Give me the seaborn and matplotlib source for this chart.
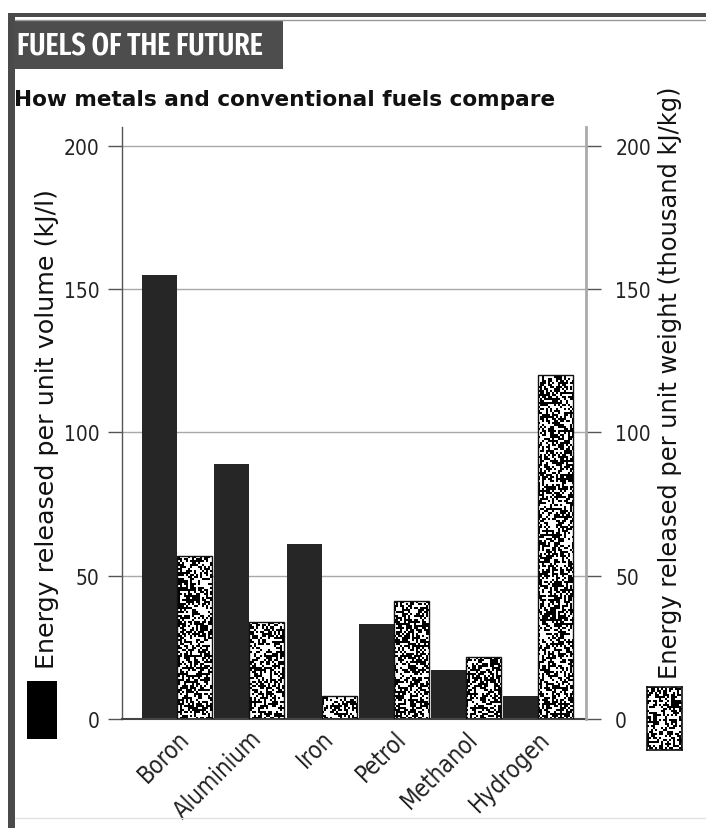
import numpy as np
import pandas as pd
import matplotlib
matplotlib.use("Agg")
import matplotlib.pyplot as plt
from matplotlib import font_manager as fm
from matplotlib.font_manager import FontProperties
from matplotlib.patches import Rectangle
import seaborn as sns

# Energy released by each fuel
fuels = ["Boron", "Aluminium", "Iron", "Petrol", "Methanol", "Hydrogen"]
per_volume = [155, 89, 61, 33, 17, 8]        # kJ/l
per_weight = [57, 34, 8, 41, 21.5, 120]      # thousand kJ/kg
y_ticks = [0, 50, 100, 150, 200]

title = "FUELS OF THE FUTURE"
subtitle = "How metals and conventional fuels compare"
left_label = "Energy released per unit volume (kJ/l)"
right_label = "Energy released per unit weight (thousand kJ/kg)"

df = pd.DataFrame({
    "fuel": fuels * 2,
    "measure": ["volume"] * len(fuels) + ["weight"] * len(fuels),
    "value": per_volume + per_weight,
})

sns.set_theme(style="white")
plt.rcParams["font.family"] = ["DejaVu Sans"]


def _weight(w):
    if isinstance(w, str):
        return fm.weight_dict.get(w.lower(), 400)
    return int(w)


def condensed_face(target_weight=400, extra=False):
    """Path of an installed narrow/condensed sans face, or None."""
    prefs = ["liberation sans narrow", "dejavu sans", "noto sans", "open sans", "roboto",
             "arimo", "lato", "inter"]
    best, best_score = None, None
    for f in fm.fontManager.ttflist:
        name = f.name.lower()
        fname = f.fname.lower().replace("-", "").replace("_", "")
        stretch = str(f.stretch).lower()
        narrow = ("narrow" in name or "condensed" in name or "narrow" in fname
                  or "condensed" in fname or "condensed" in stretch)
        if not narrow or f.style != "normal":
            continue
        if "ultra" in fname or "semicondensed" in fname:
            continue
        is_extra = "extra" in fname or "extra" in name or stretch == "extra-condensed"
        rank = next((k for k, p in enumerate(prefs) if name.startswith(p)), len(prefs))
        score = (0 if is_extra == extra else 1, rank, abs(_weight(f.weight) - target_weight))
        if best_score is None or score < best_score:
            best, best_score = f.fname, score
    return best


cond_regular = condensed_face(400)
cond_title = condensed_face(600, extra=True)


def face(path, size, fallback="DejaVu Sans"):
    if path:
        return FontProperties(fname=path, size=size)
    return FontProperties(family=fallback, size=size)


W, H = 706, 829
fig = plt.figure(figsize=(W / 100, H / 100), dpi=100)
renderer = fig.canvas.get_renderer()


def fx(px):
    return px / W


def fy(py):
    return 1 - py / H


def fit(t, target_px, vertical=False, max_size=None):
    """Scale a text's font size so its extent spans target_px."""
    for _ in range(3):
        bb = t.get_window_extent(renderer)
        cur = bb.height if vertical else bb.width
        t.set_fontsize(t.get_fontsize() * target_px / cur)
    if max_size and t.get_fontsize() > max_size:
        t.set_fontsize(max_size)


def speckle(h, w, cell=2):
    """Black/white stipple texture built from a deterministic hash."""
    i, j = np.mgrid[0:h // cell + 2, 0:w // cell + 2]
    v = np.sin(i * 12.9898 + j * 78.233) * 43758.5453
    v = v - np.floor(v)
    tex = (v > 0.52).astype(float)
    tex = np.kron(tex, np.ones((cell, cell)))
    return tex[:h, :w]


# Page frame
fig.patches.append(Rectangle((fx(8), 0), fx(7), fy(14), transform=fig.transFigure,
                             color="#4a4a4a", lw=0, zorder=0))
fig.patches.append(Rectangle((fx(8), fy(18)), 1, fy(14) - fy(18), transform=fig.transFigure,
                             color="#4a4a4a", lw=0, zorder=0))
fig.lines.append(plt.Line2D([fx(15), 1], [fy(21), fy(21)], transform=fig.transFigure,
                            color="#9a9a9a", lw=1))
fig.lines.append(plt.Line2D([fx(15), 1], [fy(819), fy(819)], transform=fig.transFigure,
                            color="#e2e2e2", lw=1))

# Title banner
fig.patches.append(Rectangle((fx(14), fy(70)), fx(283) - fx(14), fy(22) - fy(70),
                             transform=fig.transFigure, color="#4d4d4d", lw=0, zorder=1))
t_title = fig.text(fx(17), fy(47), title, color="white", fontproperties=face(cond_title, 20),
                   ha="left", va="center", zorder=2)
fit(t_title, 246, max_size=23)
t_sub = fig.text(fx(14), fy(100), subtitle, color="#111111", fontsize=16, family="DejaVu Sans",
                 fontweight="bold", ha="left", va="center")
fit(t_sub, 539)

# Main axes
ax_l, ax_r, ax_t, ax_b = 122, 586, 128, 720
ax = fig.add_axes([fx(ax_l), fy(ax_b), fx(ax_r) - fx(ax_l), fy(ax_t) - fy(ax_b)])

sns.barplot(data=df, x="fuel", y="value", hue="measure",
            palette={"volume": "#262626", "weight": "#ffffff"},
            width=0.97, saturation=1, legend=False, ax=ax, errorbar=None)

xlim = (-0.765, 5.665)
ylim = (0, 206.5)
ax.set_xlim(*xlim)
ax.set_ylim(*ylim)

tex = speckle(ax_b - ax_t, ax_r - ax_l)
for p in list(ax.patches):
    fc = p.get_facecolor()
    p.set_linewidth(0)
    if fc[0] > 0.9:
        im = ax.imshow(tex, cmap="gray", vmin=0, vmax=1, extent=(xlim[0], xlim[1], ylim[0], ylim[1]),
                       aspect="auto", interpolation="nearest", zorder=2)
        im.set_clip_path(p)
        p.set_facecolor("none")
        p.set_edgecolor("#111111")
        p.set_linewidth(1.0)
        p.set_zorder(3)
ax.set_xlim(*xlim)
ax.set_ylim(*ylim)
ax.set_aspect("auto")

ax.set_yticks(y_ticks)
ax.yaxis.grid(True, color="#a8a8a8", lw=1)
ax.set_axisbelow(True)
ax.set_xlabel("")
ax.set_ylabel("")
for s in ["top", "right"]:
    ax.spines[s].set_visible(False)
ax.spines["left"].set_color("#555555")
ax.spines["left"].set_linewidth(1.0)
ax.spines["bottom"].set_color("#444444")
ax.spines["bottom"].set_linewidth(1.5)
ax.tick_params(axis="y", length=10, width=1, color="#555555", pad=6, labelcolor="#222222")
ax.tick_params(axis="x", length=0, pad=5)

ytick_size = 15 if cond_regular else 12.5
xtick_size = 17 if cond_regular else 14.5
for lab in ax.get_yticklabels():
    lab.set_fontproperties(face(cond_regular, ytick_size))
ax.set_xticks(range(len(fuels)))
ax.set_xticklabels(fuels, rotation=45, ha="right", va="top", rotation_mode="anchor",
                   color="#222222")
for lab in ax.get_xticklabels():
    lab.set_fontproperties(face(cond_regular, xtick_size))

# Right-hand scale
ax2 = ax.twinx()
ax2.set_ylim(*ylim)
ax2.set_yticks(y_ticks)
for s in ["top", "left", "bottom"]:
    ax2.spines[s].set_visible(False)
ax2.spines["right"].set_color("#aaaaaa")
ax2.spines["right"].set_linewidth(2)
ax2.tick_params(axis="y", length=11, width=1, color="#555555", pad=10, labelcolor="#222222")
for lab in ax2.get_yticklabels():
    lab.set_fontproperties(face(cond_regular, ytick_size))
ax2.grid(False)

# Axis titles with their key swatches
t_left = fig.text(fx(47), fy(429), left_label, rotation=90, ha="center", va="center",
                  fontsize=16, family="DejaVu Sans", color="#111111")
fit(t_left, 478, vertical=True)
t_right = fig.text(fx(670), fy(383), right_label, rotation=90, ha="center", va="center",
                   fontsize=16, family="DejaVu Sans", color="#111111")
fit(t_right, 590, vertical=True)

fig.patches.append(Rectangle((fx(27), fy(740)), fx(57) - fx(27), fy(682) - fy(740),
                             transform=fig.transFigure, color="black", lw=0))
sw = fig.add_axes([fx(647), fy(751), fx(682) - fx(647), fy(688) - fy(751)])
sw.imshow(speckle(63, 35), cmap="gray", vmin=0, vmax=1, aspect="auto", interpolation="nearest")
sw.set_xticks([])
sw.set_yticks([])
for s in sw.spines.values():
    s.set_color("#111111")
    s.set_linewidth(1.2)

fig.savefig("out.png", dpi=100)
